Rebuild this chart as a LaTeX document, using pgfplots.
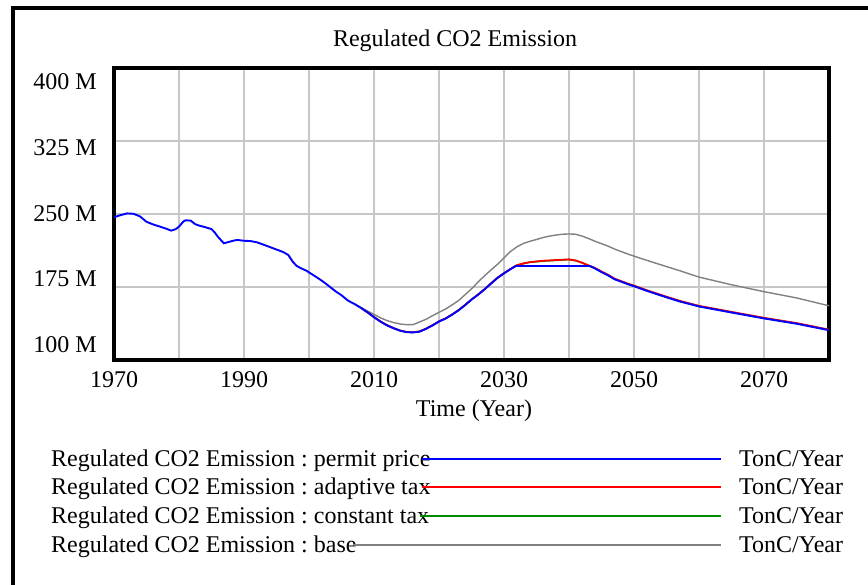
\documentclass[border=0pt]{standalone}
\usepackage{fontspec}
\setmainfont{Liberation Serif}
\usepackage{pgfplots}
\pgfplotsset{compat=1.18}
\usepackage{pgfplotstable}
\definecolor{vgreen}{RGB}{0,140,0}
\definecolor{vred}{RGB}{255,0,0}
\definecolor{vblue}{RGB}{0,0,255}
\definecolor{vgray}{RGB}{128,128,128}
\frenchspacing

\pgfplotstableread{
x y
1970 246.6
1971 248.8
1972 250.6
1973 250.2
1974 247.5
1975 242.0
1976 239.3
1977 237.2
1978 235.0
1978.8 232.9
1979.5 234.5
1980 237.0
1980.7 242.5
1981 243.5
1981.8 243.2
1982.5 239.5
1983 238.3
1984 236.5
1985 234.5
1985.5 231.0
1986 226.5
1986.9 219.9
1987.5 221.0
1988.5 222.8
1989 223.3
1990 222.5
1991 222.2
1992 220.9
1993 218.5
1994 216.0
1995 213.5
1996 211.0
1996.8 208.0
1997.5 201.0
1998.1 196.6
1999 193.5
1999.6 191.8
2000 190.0
2001 185.8
2002 181.3
2003 176.3
2004 171.0
2005 166.5
2006 161.0
2007 157.5
2008 153.5
}\hist

\pgfplotstableread{
x y
2008 153.5
2009 149.0
2010 144.0
2011 139.4
2012 135.5
2013 132.6
2014 130.1
2015 128.6
2016 128.3
2017 129.1
2018 132.0
2019 135.5
2020 139.5
2021 142.5
2022 146.5
2023 151.0
2024 156.3
2025 162.0
2026 167.0
2027 172.5
2028 178.5
2029 184.3
2030 189.0
2031 193.3
2031.8 196.6
2043.2 196.6
2044 194.0
2045 190.3
2046 187.0
2047 183.0
2048 180.5
2049 178.0
2050 175.8
2052 171.0
2055 164.4
2057 160.2
2060 155.0
2065 148.8
2070 142.7
2075 137.3
2080 130.6
}\permit

\pgfplotstableread{
x y
2008 153.5
2009 149.0
2010 144.0
2011 139.6
2012 135.8
2013 132.8
2014 130.3
2015 128.8
2016 128.5
2017 129.3
2018 132.2
2019 135.7
2020 139.7
2021 142.7
2022 146.7
2023 151.2
2024 156.5
2025 162.2
2026 167.2
2027 172.7
2028 178.7
2029 184.5
2030 189.2
2031 193.5
2032 197.5
2033 199.3
2034 200.5
2035 201.3
2036 202.0
2037 202.3
2038 202.7
2039 203.0
2040 203.4
2041 202.3
2042 200.0
2043 197.2
2044 194.5
2045 190.9
2046 187.6
2047 183.6
2048 181.1
2049 178.6
2050 176.4
2052 171.6
2055 165.0
2057 160.8
2060 155.6
2065 149.4
2070 143.3
2075 137.9
2080 131.2
}\adaptive

\pgfplotstableread{
x y
2008 153.5
2009 149.0
2010 144.0
2011 139.6
2012 135.8
2013 132.8
2014 130.3
2015 128.8
2016 128.5
2017 129.3
2018 132.2
2019 135.7
2020 139.7
2021 142.7
2022 146.7
2023 151.2
2024 156.5
2025 162.2
2026 167.2
2027 172.7
2028 178.7
2029 184.5
2030 189.2
2031 193.5
2032 197.3
2033 199.0
2034 200.6
2035 201.0
2036 201.6
2037 202.0
2038 202.4
2039 202.8
2040 203.2
2041 202.1
2042 199.8
2043 197.0
2044 194.3
2045 190.6
2046 187.3
2047 183.3
2048 180.8
2049 178.3
2050 176.1
2052 171.3
2055 164.7
2057 160.5
2060 155.3
2065 149.1
2070 143.0
2075 137.6
2080 130.9
}\constant

\pgfplotstableread{
x y
2007 157.5
2008 154.0
2009 150.3
2010 146.8
2011 143.3
2012 140.5
2013 138.5
2014 137.0
2015 136.3
2016 136.3
2017 139.0
2018 141.8
2019 145.5
2020 149.0
2021 152.3
2022 156.5
2023 161.0
2024 167.0
2025 173.0
2026 180.0
2027 186.5
2028 192.5
2029 198.3
2030 205.0
2031 211.5
2032 216.3
2033 219.8
2034 222.0
2035 223.8
2036 225.8
2037 227.3
2038 228.4
2039 229.2
2040 229.5
2041 229.2
2042 227.3
2043 224.8
2044 222.0
2045 219.5
2046 217.0
2047 214.0
2048 211.5
2049 209.0
2050 206.7
2052 202.3
2055 196.0
2057 191.8
2060 185.2
2065 177.3
2070 170.2
2075 163.8
2080 155.7
}\base

\begin{document}
\begin{tikzpicture}[font=\fontsize{24bp}{28bp}\selectfont]
\path[use as bounding box] (0,0) rectangle (868bp,585bp);
\draw[line width=4bp] (13bp,0) -- (13bp,577bp) -- (868bp,577bp);
\begin{axis}[
  at={(114bp,225bp)}, anchor=south west,
  scale only axis, width=715bp, height=292bp,
  xmin=1970, xmax=2080, ymin=100, ymax=400,
  axis line style={line width=3.2bp},
  xtick={1970,1990,...,2070},
  minor xtick={1980,2000,...,2080},
  ytick={115.5,183.2,250.8,318.5,386},
  yticklabels={100 M,175 M,250 M,325 M,400 M},
  minor ytick={175,250,325},
  xmajorgrids, xminorgrids, yminorgrids,
  major grid style={line width=1.1bp, color=black!22},
  minor grid style={line width=1.1bp, color=black!22},
  major tick length=0pt, minor tick length=0pt,
  /pgf/number format/assume math mode=true,
  /pgf/number format/1000 sep={},
  tick label style={font=\fontsize{24bp}{28bp}\selectfont},
  yticklabel style={anchor=east, inner sep=0pt, xshift=-17bp},
  xticklabel style={anchor=north, inner sep=0pt, yshift=-11bp},
  clip=true,
]
\addplot[line width=1.4bp, color=vgray, mark=none] table[x=x,y=y] {\base};
\addplot[line width=1.6bp, color=vgreen, mark=none] table[x=x,y=y] {\constant};
\addplot[line width=1.8bp, color=vred, mark=none] table[x=x,y=y] {\adaptive};
\addplot[line width=1.9bp, color=vblue, mark=none] table[x=x,y=y] {\permit};
\addplot[line width=1.9bp, color=vblue, mark=none] table[x=x,y=y] {\hist};
\end{axis}
\node[anchor=base, inner sep=0pt] at (455bp,538.3bp) {Regulated CO2 Emission};
\node[anchor=base, inner sep=0pt] at (474bp,168.3bp) {Time (Year)};
% legend
\node[anchor=base west, inner sep=0pt] (l1) at (51bp,118.3bp) {Regulated CO2 Emission : permit price};
\node[anchor=base west, inner sep=0pt] (l2) at (51bp,90bp) {Regulated CO2 Emission : adaptive tax};
\node[anchor=base west, inner sep=0pt] (l3) at (51bp,61.3bp) {Regulated CO2 Emission : constant tax};
\node[anchor=base west, inner sep=0pt] (l4) at (51bp,32.3bp) {Regulated CO2 Emission : base};
\draw[color=vblue, line width=1.8bp] ([xshift=-9bp]l1.east |- 0,126bp) -- (720.7bp,126bp);
\draw[color=vred, line width=1.8bp] ([xshift=-9bp]l2.east |- 0,98bp) -- (720.7bp,98bp);
\draw[color=vgreen, line width=1.8bp] ([xshift=-9bp]l3.east |- 0,69bp) -- (720.7bp,69bp);
\draw[color=vgray, line width=1.6bp] ([xshift=-3bp]l4.east |- 0,40bp) -- (720.7bp,40bp);
\node[anchor=base west, inner sep=0pt] at (739bp,118.3bp) {TonC/Year};
\node[anchor=base west, inner sep=0pt] at (739bp,90bp) {TonC/Year};
\node[anchor=base west, inner sep=0pt] at (739bp,61.3bp) {TonC/Year};
\node[anchor=base west, inner sep=0pt] at (739bp,32.3bp) {TonC/Year};
\end{tikzpicture}
\end{document}
